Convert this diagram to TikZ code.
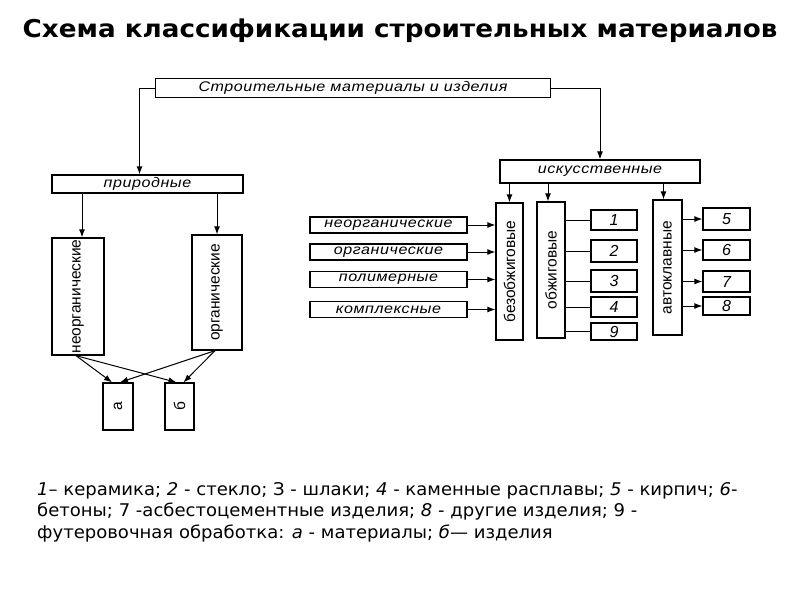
\documentclass[tikz,border=0pt]{standalone}
\usepackage{fontspec}
\usepackage{graphicx}
\setmainfont{DejaVu Sans}
\newfontfamily\titlefont[FakeStretch=1.07]{DejaVu Sans}
\newfontfamily\notefont[FakeStretch=1.03]{DejaVu Sans}
\newfontfamily\boxfont[FakeStretch=1.15,LetterSpace=4]{Liberation Sans}
\newfontfamily\vertfont{Liberation Sans}
\usetikzlibrary{arrows.meta}

\newcommand{\vlab}[1]{\rotatebox{90}{\vertfont\fontsize{15.5}{15.5}\selectfont #1}}
\newcommand{\numlab}[1]{{\vertfont\itshape\fontsize{16}{16}\selectfont #1}}

\tikzset{
  box/.style={draw, line width=1.3pt, inner sep=0pt, font=\boxfont\itshape\fontsize{14}{14}\selectfont},
  vbox/.style={draw, line width=1.3pt, inner sep=0pt},
  numbox/.style={draw, line width=1.3pt, inner sep=0pt, minimum width=46pt},
  arr/.style={-{Latex[length=8pt,width=6pt]}, line width=1pt},
  link/.style={line width=1pt}
}

\begin{document}
\begin{tikzpicture}[x=1pt, y=-1pt]
    \useasboundingbox (0,0) rectangle (800,600);
    \node[font=\titlefont\bfseries\fontsize{24.5}{24.5}\selectfont] (title) at (400,31) {Схема классификации строительных материалов};

    % top levels
    \node[box, minimum width=395pt, minimum height=19pt] (mat) at (353,88) {Строительные материалы и изделия};
    \node[box, minimum width=191pt, minimum height=18pt] (prir) at (147.5,184) {природные};
    \node[box, minimum width=200pt, minimum height=23pt] (isk) at (600,171.5) {искусственные};
    \draw[arr] (mat.west) -| ([xshift=-8pt]prir.north);
    \draw[arr] (mat.east) -| (isk.north);

    % natural materials
    \node[vbox, minimum width=52pt, minimum height=117pt] (neorg) at (78,296.5) {\vlab{неорганические}};
    \node[vbox, minimum width=50pt, minimum height=115pt] (org) at (217,292.5) {\vlab{органические}};
    \node[vbox, minimum width=30pt, minimum height=47pt] (a) at (118,406.5) {\vlab{а}};
    \node[vbox, minimum width=29pt, minimum height=47pt] (b) at (179.5,406.5) {\vlab{б}};
    \draw[arr] ([xshift=4pt]neorg.north |- prir.south) -- ([xshift=4pt]neorg.north);
    \draw[arr] (org.north |- prir.south) -- (org.north);
    \draw[arr] ([xshift=-2pt]neorg.south) -- ([xshift=-6pt]a.north);
    \draw[arr] ([xshift=-2pt]neorg.south) -- ([xshift=-3pt]b.north);
    \draw[arr] ([xshift=-2pt]org.south) -- ([xshift=2pt]a.north);
    \draw[arr] ([xshift=-2pt]org.south) -- ([xshift=4pt]b.north);

    % artificial materials
    \node[vbox, minimum width=27pt, minimum height=137pt] (bez) at (509.5,271.5) {\vlab{безобжиговые}};
    \node[vbox, minimum width=28pt, minimum height=136pt] (obzh) at (551,270) {\vlab{обжиговые}};
    \node[vbox, minimum width=29pt, minimum height=135pt] (avt) at (667.5,267.5) {\vlab{автоклавные}};
    \draw[arr] (bez.north |- isk.south) -- (bez.north);
    \draw[arr] ([xshift=-3pt]obzh.north |- isk.south) -- ([xshift=-3pt]obzh.north);
    \draw[arr] ([xshift=-4pt]avt.north |- isk.south) -- ([xshift=-4pt]avt.north);

    % binders
    \node[box, minimum width=157pt, minimum height=16pt] (in1) at (388.5,225) {неорганические};
    \node[box, minimum width=157pt, minimum height=16pt] (in2) at (388.5,252) {органические};
    \node[box, minimum width=157pt, minimum height=16pt] (in3) at (388.5,279.5) {полимерные};
    \node[box, minimum width=157pt, minimum height=16pt] (in4) at (388.5,309.5) {комплексные};
    \draw[arr] (in1.east) -- (in1.east -| bez.west);
    \draw[arr] (in2.east) -- (in2.east -| bez.west);
    \draw[arr] (in3.east) -- (in3.east -| bez.west);
    \draw[arr] (in4.east) -- (in4.east -| bez.west);

    % fired
    \node[numbox, minimum height=20pt] (n1) at (614,220) {\numlab{1}};
    \node[numbox, minimum height=22pt] (n2) at (614,251) {\numlab{2}};
    \node[numbox, minimum height=22pt] (n3) at (614,281) {\numlab{3}};
    \node[numbox, minimum height=20pt] (n4) at (614,307) {\numlab{4}};
    \node[numbox, minimum height=17pt] (n9) at (614,331.5) {\numlab{9}};
    \draw[link] (n1.west -| obzh.east) -- (n1.west);
    \draw[link] (n2.west -| obzh.east) -- (n2.west);
    \draw[link] (n3.west -| obzh.east) -- (n3.west);
    \draw[link] (n4.west -| obzh.east) -- (n4.west);
    \draw[link] (n9.west -| obzh.east) -- (n9.west);

    % autoclave
    \node[numbox, minimum width=47pt, minimum height=22pt] (n5) at (726.5,219) {\numlab{5}};
    \node[numbox, minimum width=47pt, minimum height=20pt] (n6) at (726.5,250) {\numlab{6}};
    \node[numbox, minimum width=47pt, minimum height=21pt] (n7) at (726.5,281.5) {\numlab{7}};
    \node[numbox, minimum width=47pt, minimum height=18pt] (n8) at (726.5,306) {\numlab{8}};
    \draw[arr] (n5.west -| avt.east) -- (n5.west);
    \draw[arr] (n6.west -| avt.east) -- (n6.west);
    \draw[arr] (n7.west -| avt.east) -- (n7.west);
    \draw[arr] (n8.west -| avt.east) -- (n8.west);

    % legend
    \node[anchor=north west, align=left, inner sep=0pt, font=\notefont\fontsize{17.5}{21.5}\selectfont] (note) at (37,482)
      {\textit{1}– керамика; \textit{2} - стекло; З - шлаки; \textit{4} - каменные расплавы; \textit{5} - кирпич; \textit{6}-\\
       бетоны; 7 -асбестоцементные изделия; \textit{8} - другие изделия; 9 -\\
       футеровочная обработка: \textit{а} - материалы; \textit{б}— изделия};
\end{tikzpicture}
\end{document}
